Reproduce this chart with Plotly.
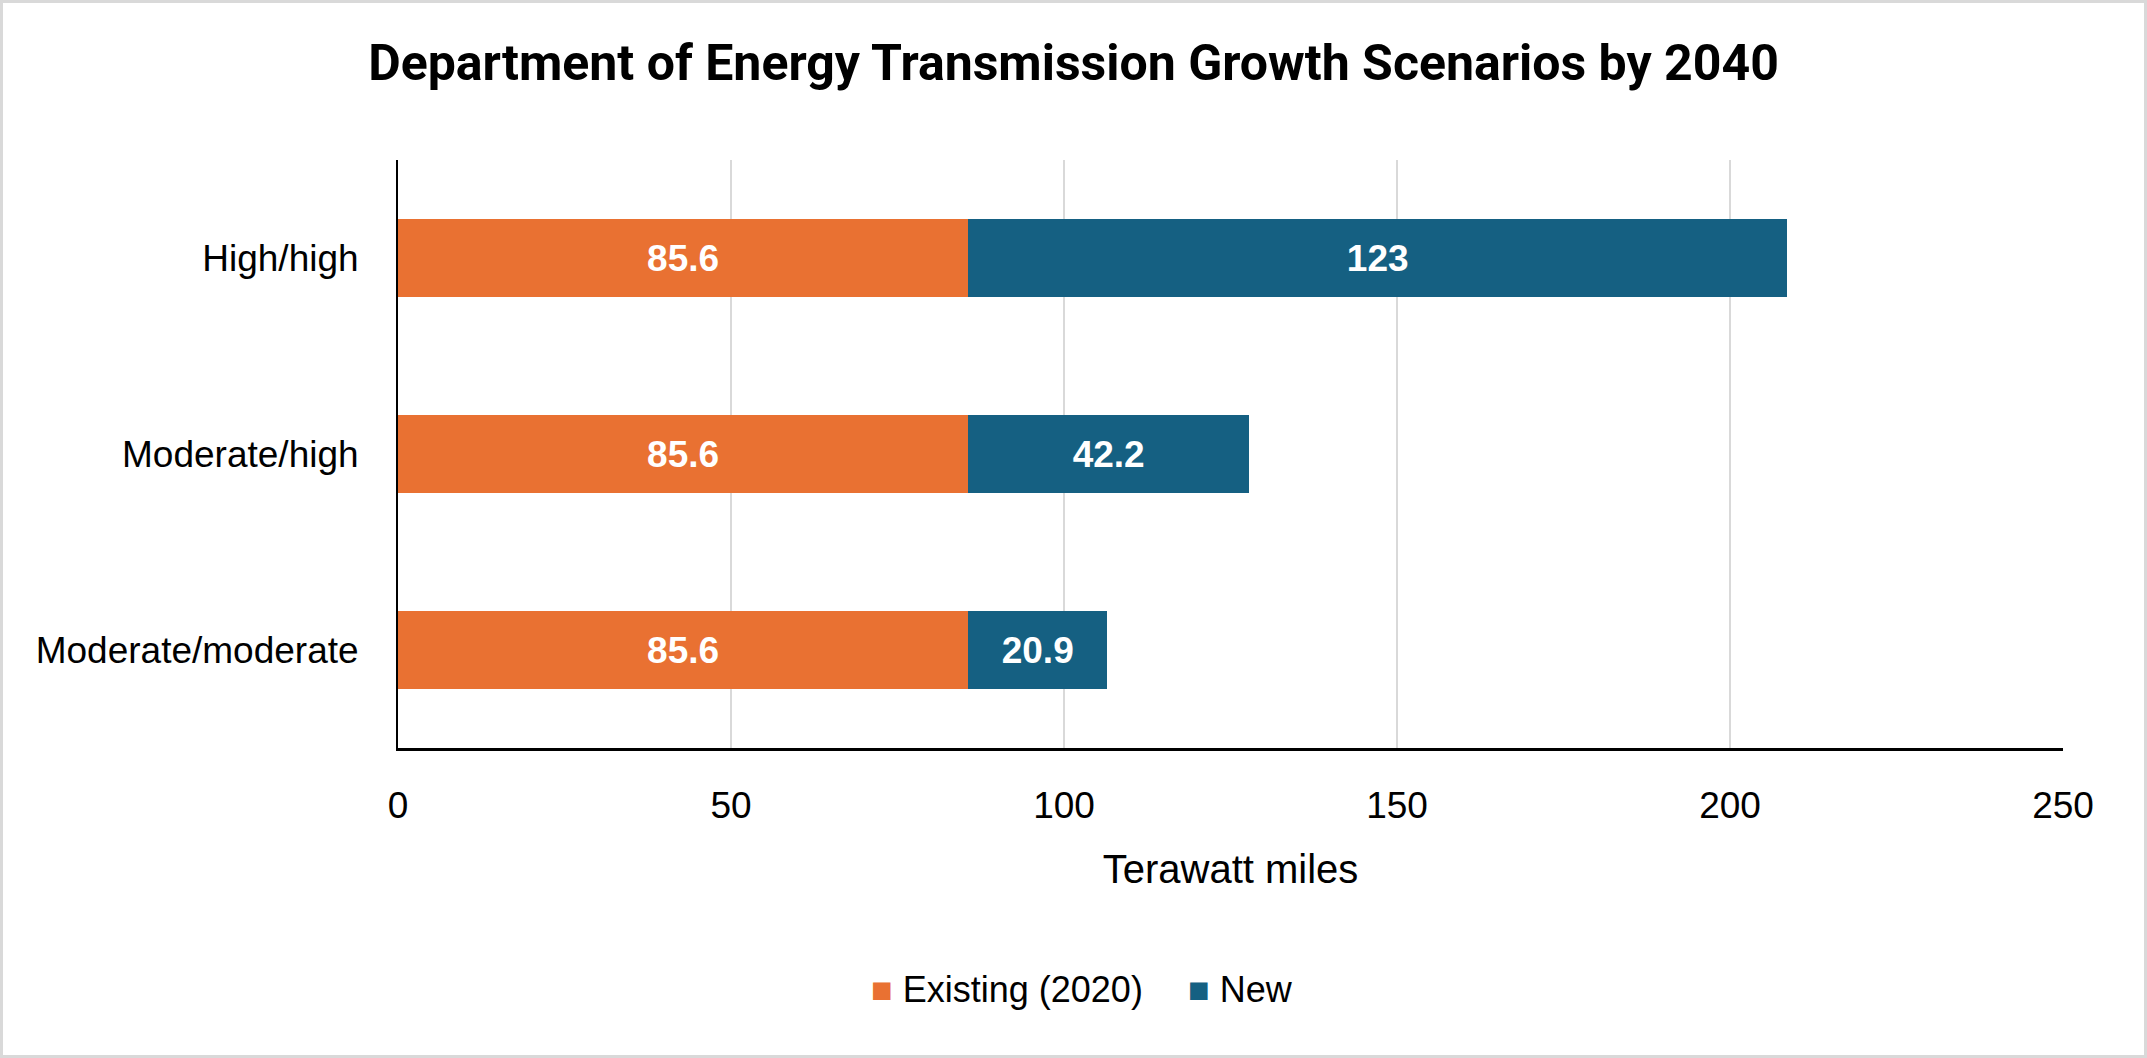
import plotly.graph_objects as go

categories = ["High/high", "Moderate/high", "Moderate/moderate"]
existing = [85.6, 85.6, 85.6]
new = [123, 42.2, 20.9]
existing_labels = ["85.6", "85.6", "85.6"]
new_labels = ["123", "42.2", "20.9"]
x_ticks = [0, 50, 100, 150, 200, 250]
series_names = ["Existing (2020)", "New"]

ORANGE = "#E97132"
BLUE = "#156082"
FONT = "Liberation Sans"

W, H = 2147, 1058
L, R, T, B = 398, 84, 160, 310
pw = W - L - R
ph = H - T - B

fig = go.Figure()
fig.add_trace(go.Bar(
    y=categories, x=existing, orientation="h", name=series_names[0],
    marker=dict(color=ORANGE, line=dict(width=0)),
    text=existing_labels, textposition="inside", insidetextanchor="middle",
    textfont=dict(family=FONT, size=37, color="white", weight="bold"),
    showlegend=False, hoverinfo="x+y",
))
fig.add_trace(go.Bar(
    y=categories, x=new, orientation="h", name=series_names[1],
    marker=dict(color=BLUE, line=dict(width=0)),
    text=new_labels, textposition="inside", insidetextanchor="middle",
    textfont=dict(family=FONT, size=37, color="white", weight="bold"),
    showlegend=False, hoverinfo="x+y",
))
# legend entries (coloured square glyph + name)
for nm, col in zip(series_names, [ORANGE, BLUE]):
    fig.add_trace(go.Scatter(
        x=[None], y=[None], mode="markers",
        name=f'<span style="color:{col}">■</span> {nm}',
        marker=dict(symbol="square", size=1, color="rgba(0,0,0,0)"),
        hoverinfo="skip",
    ))

fig.update_layout(
    width=W, height=H,
    margin=dict(l=L, r=R, t=T, b=B),
    paper_bgcolor="white", plot_bgcolor="white",
    barmode="stack", bargap=0.6,
    title=dict(
        text="<b>Department of Energy Transmission Growth Scenarios by 2040</b>",
        x=0.5, xref="container", xanchor="center",
        y=1 - 62 / H, yref="container", yanchor="middle",
        font=dict(family="Roboto", size=50, color="black"),
    ),
    font=dict(family=FONT, color="black"),
    legend=dict(
        orientation="h", traceorder="normal",
        x=(831 - L) / pw, xanchor="left",
        y=-(988 - (T + ph)) / ph, yanchor="middle",
        font=dict(family=FONT, size=36, color="black"),
        itemwidth=30, tracegroupgap=0,
        bgcolor="rgba(0,0,0,0)",
    ),
    xaxis=dict(
        range=[0, 250], tickvals=x_ticks, ticktext=[str(v) for v in x_ticks],
        showgrid=True, gridcolor="#D9D9D9", gridwidth=2,
        zeroline=False, showline=True, linecolor="black", linewidth=3,
        ticks="", ticklabelstandoff=23,
        tickfont=dict(family=FONT, size=37, color="black"),
        title=dict(text="Terawatt miles", standoff=30,
                   font=dict(family=FONT, size=40, color="black")),
        fixedrange=True,
    ),
    yaxis=dict(
        categoryorder="array", categoryarray=categories, autorange="reversed",
        showgrid=False, zeroline=False, showline=True, linecolor="black", linewidth=2,
        ticks="", ticklabelstandoff=30,
        tickfont=dict(family=FONT, size=37, color="black"),
        fixedrange=True,
    ),
    shapes=[dict(
        type="rect", xref="paper", yref="paper",
        x0=(-L + 1.5) / pw, x1=1 + (R - 1.5) / pw,
        y0=-(B - 1.5) / ph, y1=1 + (T - 1.5) / ph,
        line=dict(color="#D9D9D9", width=3), fillcolor="rgba(0,0,0,0)",
        layer="below",
    )],
)

fig.write_html("out.html", config={"displayModeBar": False},
               post_script="document.body.style.margin='0';")
